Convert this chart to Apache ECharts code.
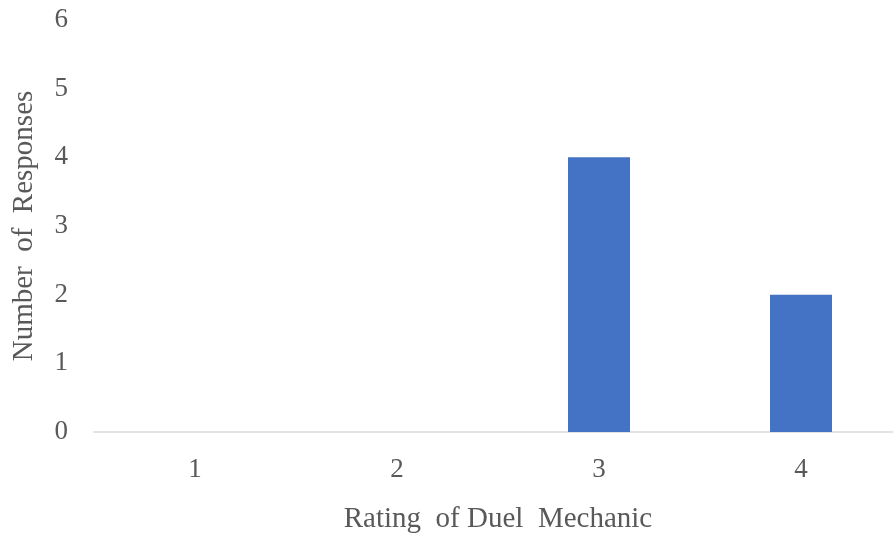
<!DOCTYPE html>
<html>
<head>
<meta charset="utf-8">
<script src="https://cdn.jsdelivr.net/npm/echarts@6/dist/echarts.min.js"></script>
<style>
  html, body { margin: 0; padding: 0; background: #fff; }
  #chart { width: 893px; height: 537px; }
</style>
</head>
<body>
<div id="chart"></div>
<script>
const ratings = ['1', '2', '3', '4'];
const responses = [0, 0, 4, 2];

const chart = echarts.init(document.getElementById('chart'));
const font = 'Liberation Serif, Times New Roman, serif';

chart.setOption({
  animation: false,
  grid: { left: 94, width: 808, top: 20, bottom: 105, outerBoundsMode: 'none', containLabel: false },
  xAxis: {
    type: 'category',
    data: ratings,
    name: 'Rating  of Duel  Mechanic',
    nameLocation: 'middle',
    nameGap: 73,
    nameTextStyle: { fontFamily: font, fontSize: 29, color: '#595959' },
    axisLine: { lineStyle: { color: '#d9d9d9', width: 1.5 } },
    axisTick: { show: false },
    axisLabel: { fontFamily: font, fontSize: 27, color: '#595959', margin: 24 }
  },
  yAxis: {
    type: 'value',
    min: 0,
    max: 6,
    interval: 1,
    name: 'Number  of  Responses',
    nameLocation: 'middle',
    nameGap: 55,
    nameTextStyle: { fontFamily: font, fontSize: 29, color: '#595959' },
    splitLine: { show: false },
    axisLine: { show: false },
    axisTick: { show: false },
    axisLabel: { fontFamily: font, fontSize: 27, color: '#595959', margin: 26 }
  },
  series: [{
    type: 'bar',
    data: responses,
    barWidth: 62,
    itemStyle: { color: '#4472C4' }
  }]
});
</script>
</body>
</html>
